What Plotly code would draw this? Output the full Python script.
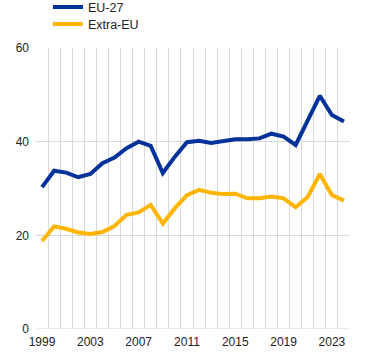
import plotly.graph_objects as go

years = list(range(1999, 2025))
eu27 = [30.3, 33.8, 33.4, 32.4, 33.1, 35.4, 36.6, 38.6, 40.0, 39.1, 33.3, 36.8, 39.9,
        40.2, 39.7, 40.2, 40.5, 40.5, 40.7, 41.7, 41.1, 39.3, 44.6, 49.8, 45.7, 44.3]
extra_eu = [18.8, 21.9, 21.4, 20.6, 20.3, 20.7, 22.0, 24.4, 24.9, 26.5, 22.5, 25.8, 28.6,
            29.7, 29.1, 28.8, 28.9, 27.9, 27.9, 28.3, 27.9, 26.0, 28.2, 33.1, 28.6, 27.4]
x_ticks = [1999, 2003, 2007, 2011, 2015, 2019, 2023]
y_ticks = [0, 20, 40, 60]

grid = "#d9d9d9"
fig = go.Figure()
fig.add_trace(go.Scatter(x=years, y=eu27, name="EU-27", mode="lines", legend="legend",
                         line=dict(color="#003299", width=4)))
fig.add_trace(go.Scatter(x=years, y=extra_eu, name="Extra-EU", mode="lines", legend="legend2",
                         line=dict(color="#FFB400", width=4)))

leg_common = dict(xanchor="left", yanchor="middle", bgcolor="rgba(0,0,0,0)",
                  font=dict(size=12.5), itemwidth=30)
fig.update_layout(
    width=372, height=356,
    margin=dict(l=36, r=22, t=48, b=27, autoexpand=False),
    paper_bgcolor="white", plot_bgcolor="white",
    font=dict(family="Liberation Sans, Arial, sans-serif", size=12, color="#222222"),
    showlegend=True,
    legend=dict(x=0.038, y=1.145, **leg_common),
    legend2=dict(x=0.038, y=1.0845, **leg_common),
    xaxis=dict(range=[1998.5, 2024.5], tickvals=x_ticks, ticktext=[str(v) for v in x_ticks],
               showgrid=False, zeroline=False, showline=False, ticks="",
               ticklabelstandoff=4,
               minor=dict(tick0=1998.5, dtick=1, showgrid=True, gridcolor=grid, gridwidth=1)),
    yaxis=dict(range=[0, 60], tickvals=y_ticks, showgrid=True, gridcolor=grid, gridwidth=1,
               zeroline=False, showline=False, ticks="", ticklabelstandoff=6),
)
fig.add_hline(y=0, line=dict(color=grid, width=1), layer="below")
fig.write_html("out.html", config={"displayModeBar": False},
               post_script="document.body.style.margin='0';")
